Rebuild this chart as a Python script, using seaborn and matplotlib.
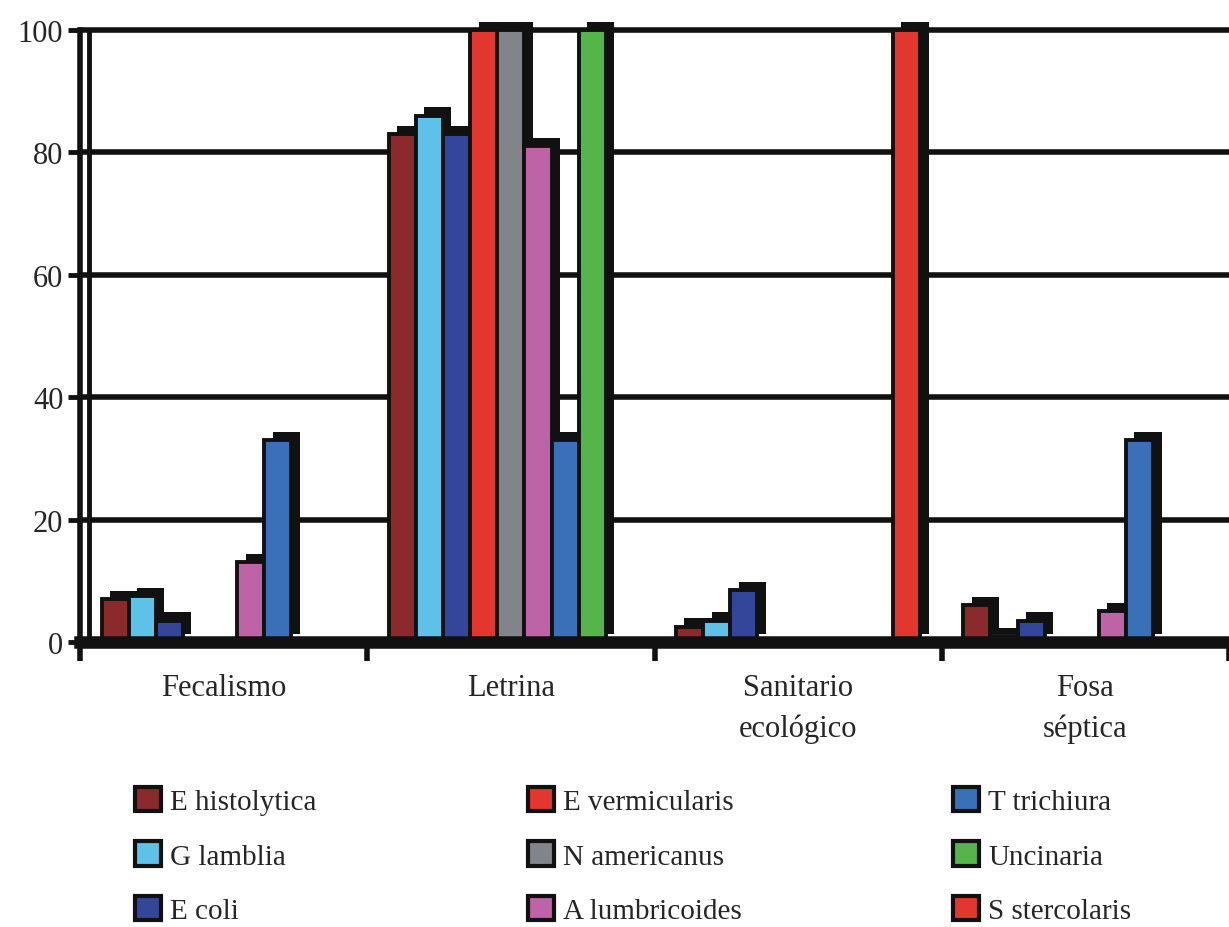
import numpy as np
import pandas as pd
import matplotlib
matplotlib.use("Agg")
import matplotlib.pyplot as plt
import matplotlib.patheffects as pe
from matplotlib.patches import Patch
import seaborn as sns

categories = ["Fecalismo", "Letrina", "Sanitario\necológico", "Fosa\nséptica"]
series = ["E histolytica", "G lamblia", "E coli",
          "E vermicularis", "N americanus", "A lumbricoides",
          "T trichiura", "Uncinaria", "S stercolaris"]
colors = ["#8B2A2C", "#5DC1EA", "#34469A",
          "#E2372F", "#818489", "#BD63A6",
          "#3A70B8", "#55B44A", "#E2372F"]

fecalismo = [7, 7.5, 3.5, 0, 0, 13, 33, 0, 0]
letrina = [83, 86, 83, 100, 100, 81, 33, 100, 0]
sanitario = [2.5, 3.5, 8.5, 0, 0, 0, 0, 0, 100]
fosa = [6, 1, 3.5, 0, 0, 5, 33, 0, 0]

rows = []
for cat, vals in zip(categories, [fecalismo, letrina, sanitario, fosa]):
    for s, v in zip(series, vals):
        rows.append((cat, s, v))
df = pd.DataFrame(rows, columns=["categoria", "parasito", "valor"])

sns.set_style("white")
plt.rcParams["font.family"] = ["Liberation Serif", "DejaVu Serif"]

fig = plt.figure(figsize=(12.29, 9.28), dpi=100)
ax = fig.add_axes([80 / 1229, 1 - 643 / 928, 1 - 80 / 1229, (643 - 31) / 928])

sns.barplot(data=df, x="categoria", y="valor", hue="parasito",
            order=categories, hue_order=series, palette=colors,
            saturation=1, width=0.85, edgecolor="#111111", linewidth=2.8,
            ax=ax, legend=False, zorder=3)

# fake 3D depth like the original spreadsheet chart
shadow = [pe.SimplePatchShadow(offset=(6, 6), shadow_rgbFace="#111111", alpha=1),
          pe.Normal()]
for bar in ax.patches:
    bar.set_path_effects(shadow)
    bar.set_clip_on(False)

ax.set_ylim(0, 100)
ax.set_xlim(-0.5, 3.5)
ax.set_yticks([0, 20, 40, 60, 80, 100])
ax.yaxis.grid(True, color="#111111", linewidth=4)
for line in ax.get_ygridlines():
    line.set_clip_on(False)
ax.set_axisbelow(True)
ax.set_xlabel("")
ax.set_ylabel("")

for side in ["top", "right"]:
    ax.spines[side].set_visible(False)
ax.spines["left"].set_linewidth(4)
ax.spines["left"].set_color("#111111")
ax.spines["bottom"].set_linewidth(9)
ax.spines["bottom"].set_color("#111111")
ax.spines["bottom"].set_zorder(4)
ax.axvline(-0.47, color="#111111", linewidth=3.5, zorder=2)

ax.tick_params(axis="y", left=True, length=9, width=3.5, color="#111111",
               labelsize=22, pad=3)
ax.set_xticks(np.arange(-0.5, 4, 1), minor=True)
ax.tick_params(axis="x", which="major", length=0, labelsize=22, pad=22)
ax.tick_params(axis="x", which="minor", bottom=True, length=14, width=4,
               color="#111111")
for lab in ax.get_xticklabels():
    lab.set_linespacing(1.55)

handles = [Patch(facecolor=c, edgecolor="#111111", linewidth=3) for c in colors]
fig.legend(handles, series, ncol=3, loc="upper left",
           bbox_to_anchor=(135 / 1229, 1 - 788 / 928), frameon=False,
           fontsize=21, borderpad=0, borderaxespad=0,
           handlelength=0.9, handleheight=0.9,
           handletextpad=0.3, columnspacing=7.25, labelspacing=0.9)

fig.savefig("out.png", dpi=100)
